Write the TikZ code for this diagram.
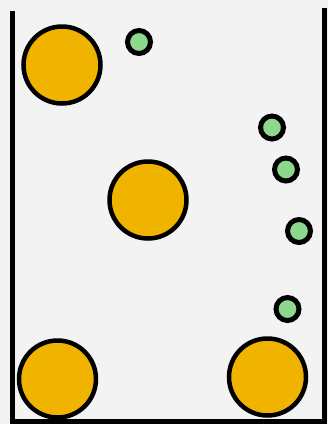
\documentclass[tikz,border=0pt]{standalone}
\usepackage{tikz}
\definecolor{ballorange}{HTML}{F0B400}
\definecolor{ballgreen}{HTML}{8ED88E}
\definecolor{paper}{HTML}{F3F3F3}
\tikzset{
  bigball/.style={circle,draw=black,line width=4.5pt,fill=ballorange,minimum size=77pt,inner sep=0pt},
  smallball/.style={circle,draw=black,line width=5pt,fill=ballgreen,minimum size=23pt,inner sep=0pt},
  wall/.style={line width=5pt,black}
}
\begin{document}
\begin{tikzpicture}[x=1pt,y=-1pt]
    \fill[paper] (0,0) rectangle (328,424);
    \useasboundingbox (0,0) rectangle (328,424);
    % container
    \coordinate (lt) at (12,11);
    \coordinate (lb) at (12,421);
    \coordinate (rb) at (324.5,421);
    \coordinate (rt) at (324.5,8);
    \draw[wall] (lt) -- (lb);
    \draw[wall] ([xshift=-2.5pt]lb) -- ([xshift=2.5pt]rb);
    \draw[wall] (rt) -- (rb);
    % big balls
    \node[bigball] (big1) at (62,65) {};
    \node[bigball] (big2) at (148,200) {};
    \node[bigball] (big3) at (57.5,379) {};
    \node[bigball] (big4) at (267.5,377) {};
    % small balls
    \node[smallball] (small1) at (139,42) {};
    \node[smallball] (small2) at (272,127.5) {};
    \node[smallball] (small3) at (286,169.5) {};
    \node[smallball] (small4) at (299,231) {};
    \node[smallball] (small5) at (287.5,309) {};
\end{tikzpicture}
\end{document}
